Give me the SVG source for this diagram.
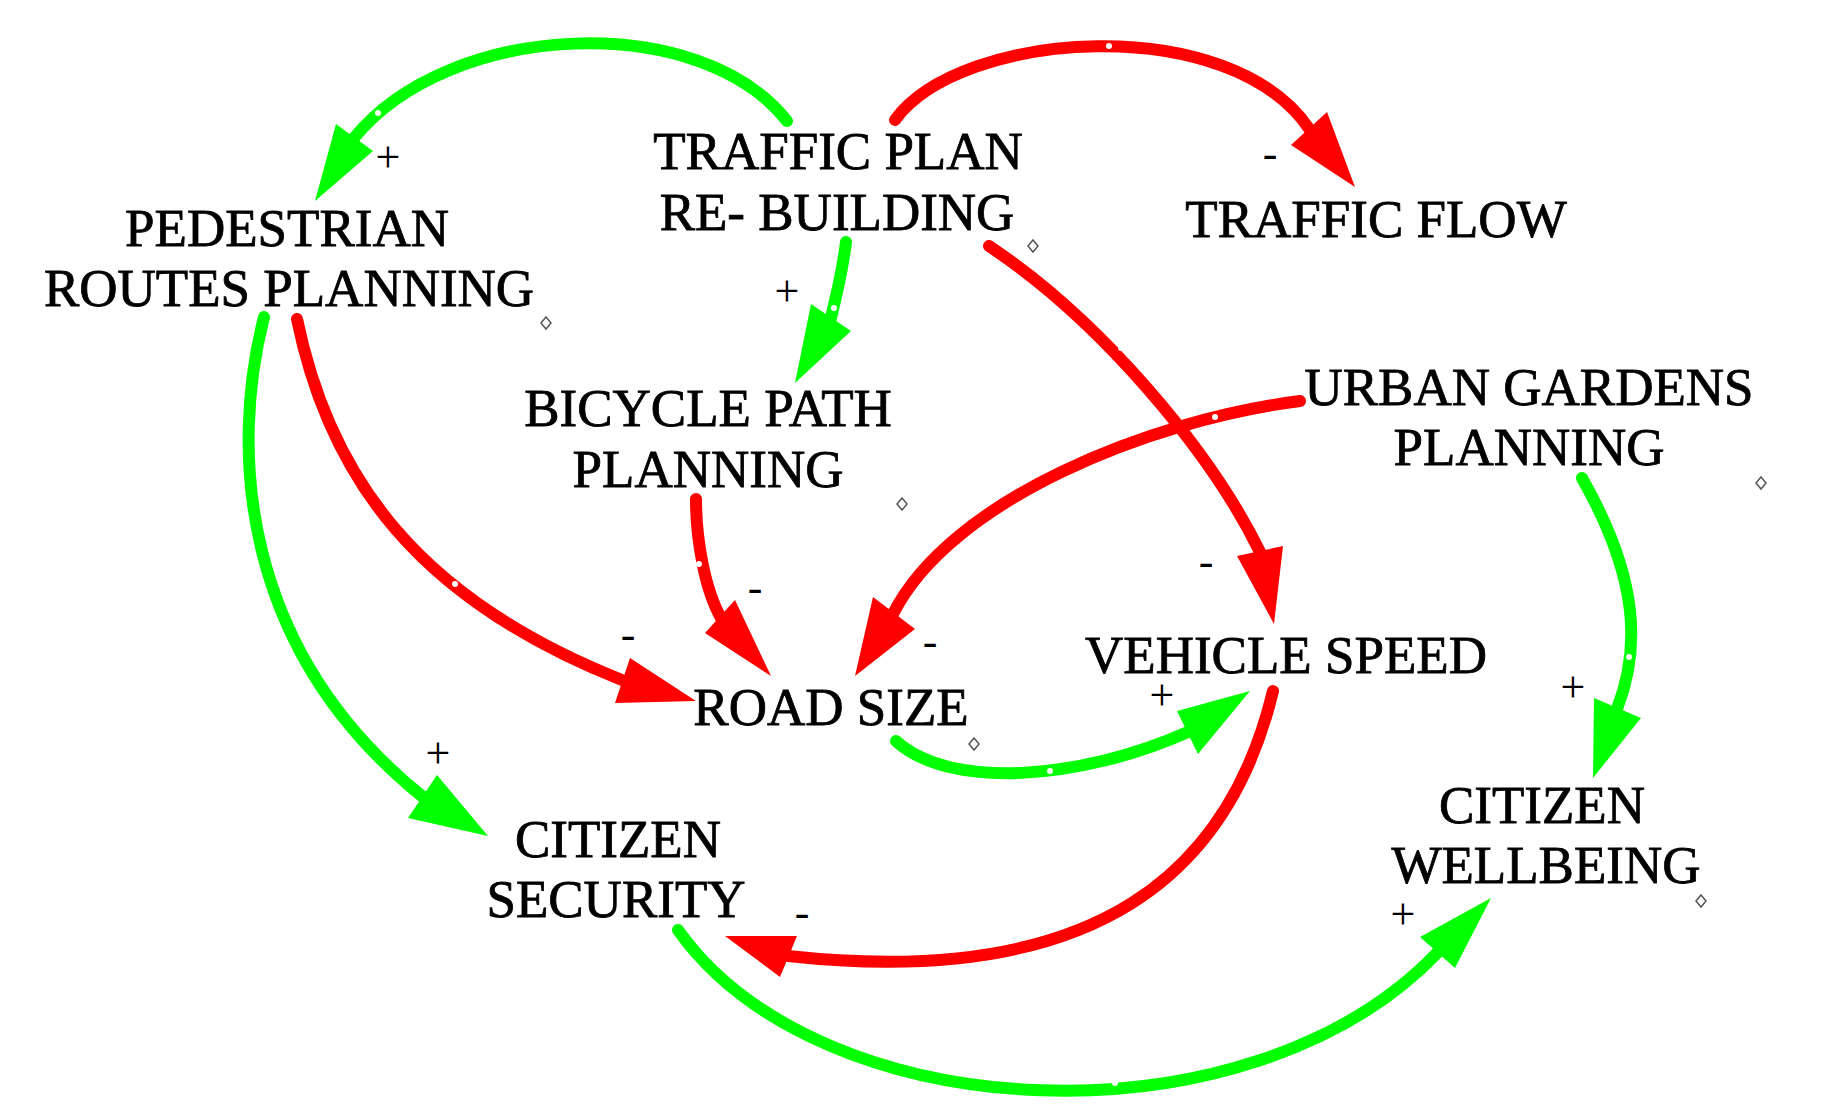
<svg xmlns="http://www.w3.org/2000/svg" width="1842" height="1118" viewBox="0 0 1842 1118">
<style>
.lbl{font-family:"Liberation Serif","Times New Roman",serif;font-size:53px;fill:#000;stroke:#000;stroke-width:0.8;text-anchor:middle}
.pol{font-family:"Liberation Serif",serif;font-size:44px;fill:#000;text-anchor:middle;dominant-baseline:central}
.g{fill:none;stroke:#00ff00;stroke-width:12;stroke-linecap:round}
.r{fill:none;stroke:#ff0000;stroke-width:12;stroke-linecap:round}
.gh{fill:#00ff00}.rh{fill:#ff0000}
.dot{fill:#fff}
.dia{fill:#fff;stroke:#555;stroke-width:1.5}
</style>
<rect width="1842" height="1118" fill="#fff"/>
<g id="connectors">
<path class="g" d="M787,121 C700,10 450,20 354,138"/><polygon class="gh" points="315,201 336,124 373,151"/>
<path class="r" d="M895,120 C960,30 1230,10 1310,130"/><polygon class="rh" points="1355,187 1327,112 1291,145"/>
<path class="g" d="M846,242 C842,275 835,300 831,318"/><polygon class="gh" points="795,383 811,304 851,331"/>
<path class="r" d="M989,246 C1100,320 1210,450 1260,552"/><polygon class="rh" points="1274,624 1237,556 1283,546"/>
<path class="r" d="M1300,401 C1150,420 950,500 893,614"/><polygon class="rh" points="855,676 873,597 915,629"/>
<path class="r" d="M297,319 C330,480 420,600 622,680"/><polygon class="rh" points="696,701 630,658 615,703"/>
<path class="r" d="M696,499 C696,540 705,590 721,618"/><polygon class="rh" points="771,676 735,600 705,633"/>
<path class="g" d="M264,317 C230,450 240,650 423,797"/><polygon class="gh" points="488,836 437,775 408,818"/>
<path class="g" d="M896,741 C950,790 1080,780 1188,732"/><polygon class="gh" points="1250,691 1177,711 1198,754"/>
<path class="r" d="M1273,691 C1230,870 1100,990 788,956"/><polygon class="rh" points="725,936 780,977 797,936"/>
<path class="g" d="M1582,478 C1640,580 1640,650 1617,709"/><polygon class="gh" points="1593,778 1594,698 1641,718"/>
<path class="g" d="M678,930 C820,1130 1250,1150 1438,952"/><polygon class="gh" points="1491,898 1420,937 1455,968"/>
<g class="dot">
<circle cx="378" cy="113" r="3"/><circle cx="834" cy="308" r="3"/><circle cx="1109" cy="46" r="3"/><circle cx="1121" cy="348" r="3"/><circle cx="1215" cy="417" r="3"/><circle cx="250" cy="553" r="3"/><circle cx="455" cy="584" r="3"/><circle cx="699" cy="564" r="3"/><circle cx="1050" cy="771" r="3"/><circle cx="1074" cy="919" r="3"/><circle cx="1629" cy="657" r="3"/><circle cx="1115" cy="1083" r="3"/>
</g>
<g class="pol">
<text x="388" y="157">+</text><text x="787" y="291">+</text><text x="438" y="753">+</text><text x="1162" y="695">+</text><text x="1573" y="687">+</text><text x="1403" y="914">+</text>
<text x="1270" y="153">-</text><text x="628" y="634">-</text><text x="755" y="587">-</text><text x="802" y="912">-</text><text x="1206" y="561">-</text><text x="930" y="641">-</text>
</g>
</g>
<g id="pedestrian"><text class="lbl" x="287" y="246">PEDESTRIAN</text><text class="lbl" x="289" y="306">ROUTES PLANNING</text><path class="dia" d="M546,317 l5,6 -5,6 -5,-6z"/></g>
<g id="trafficplan"><text class="lbl" x="838" y="169">TRAFFIC PLAN</text><text class="lbl" x="837" y="230">RE- BUILDING</text><path class="dia" d="M1033,240 l5,6 -5,6 -5,-6z"/></g>
<g id="trafficflow"><text class="lbl" x="1376" y="237">TRAFFIC FLOW</text></g>
<g id="urbangardens"><text class="lbl" x="1529" y="405">URBAN GARDENS</text><text class="lbl" x="1529" y="465">PLANNING</text><path class="dia" d="M1761,477 l5,6 -5,6 -5,-6z"/></g>
<g id="bicycle"><text class="lbl" x="708" y="426">BICYCLE PATH</text><text class="lbl" x="708" y="487">PLANNING</text><path class="dia" d="M902,498 l5,6 -5,6 -5,-6z"/></g>
<g id="roadsize"><text class="lbl" x="831" y="725">ROAD SIZE</text><path class="dia" d="M974,738 l5,6 -5,6 -5,-6z"/></g>
<g id="vehiclespeed"><text class="lbl" x="1286" y="673">VEHICLE SPEED</text></g>
<g id="citizensecurity"><text class="lbl" x="618" y="857">CITIZEN</text><text class="lbl" x="616" y="917">SECURITY</text></g>
<g id="citizenwellbeing"><text class="lbl" x="1542" y="823">CITIZEN</text><text class="lbl" x="1546" y="883">WELLBEING</text><path class="dia" d="M1701,895 l5,6 -5,6 -5,-6z"/></g>
</svg>
